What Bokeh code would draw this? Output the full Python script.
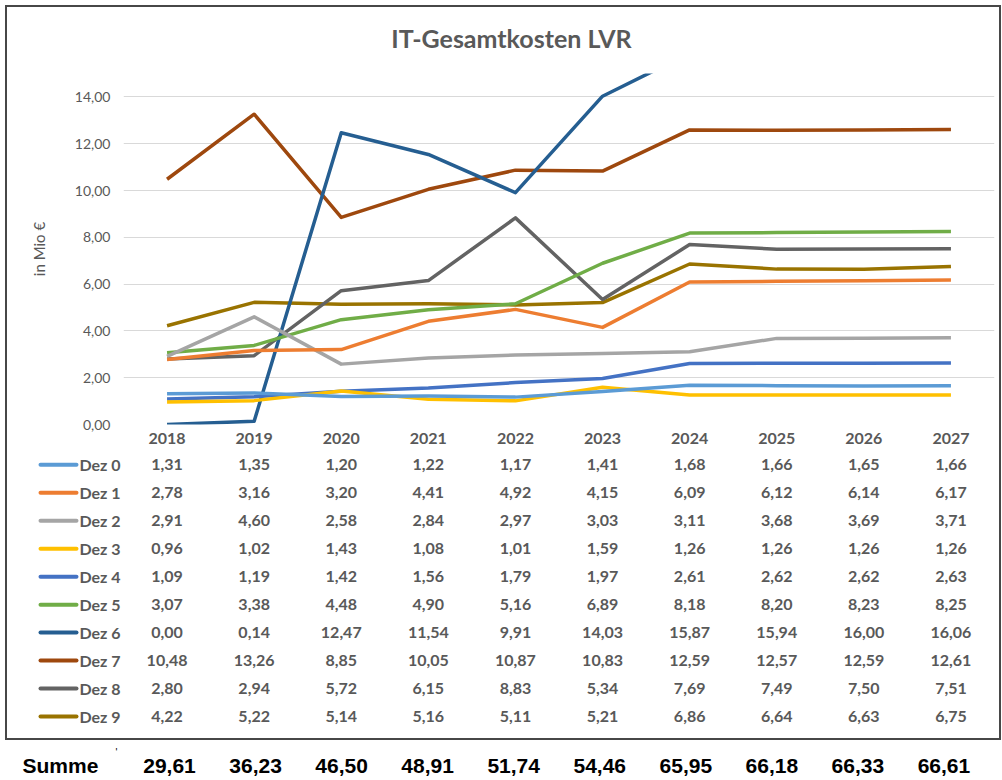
from bokeh.plotting import figure
from bokeh.models import Range1d, FactorRange, FixedTicker, ColumnDataSource
from bokeh.layouts import column
from bokeh.embed import file_html
from bokeh.resources import INLINE
from bokeh.core.properties import value

# ---------------- data ----------------
title_text = "IT-Gesamtkosten LVR"
years = ["2018", "2019", "2020", "2021", "2022", "2023", "2024", "2025", "2026", "2027"]
series_names = ["Dez 0", "Dez 1", "Dez 2", "Dez 3", "Dez 4", "Dez 5", "Dez 6", "Dez 7", "Dez 8", "Dez 9"]
dez0 = [1.31, 1.35, 1.20, 1.22, 1.17, 1.41, 1.68, 1.66, 1.65, 1.66]
dez1 = [2.78, 3.16, 3.20, 4.41, 4.92, 4.15, 6.09, 6.12, 6.14, 6.17]
dez2 = [2.91, 4.60, 2.58, 2.84, 2.97, 3.03, 3.11, 3.68, 3.69, 3.71]
dez3 = [0.96, 1.02, 1.43, 1.08, 1.01, 1.59, 1.26, 1.26, 1.26, 1.26]
dez4 = [1.09, 1.19, 1.42, 1.56, 1.79, 1.97, 2.61, 2.62, 2.62, 2.63]
dez5 = [3.07, 3.38, 4.48, 4.90, 5.16, 6.89, 8.18, 8.20, 8.23, 8.25]
dez6 = [0.00, 0.14, 12.47, 11.54, 9.91, 14.03, 15.87, 15.94, 16.00, 16.06]
dez7 = [10.48, 13.26, 8.85, 10.05, 10.87, 10.83, 12.59, 12.57, 12.59, 12.61]
dez8 = [2.80, 2.94, 5.72, 6.15, 8.83, 5.34, 7.69, 7.49, 7.50, 7.51]
dez9 = [4.22, 5.22, 5.14, 5.16, 5.11, 5.21, 6.86, 6.64, 6.63, 6.75]
summe = [29.61, 36.23, 46.50, 48.91, 51.74, 54.46, 65.95, 66.18, 66.33, 66.61]
y_ticks = [0, 2, 4, 6, 8, 10, 12, 14]

series = [dez0, dez1, dez2, dez3, dez4, dez5, dez6, dez7, dez8, dez9]
colors = ["#5B9BD5", "#ED7D31", "#A5A5A5", "#FFC000", "#4472C4",
          "#70AD47", "#255E91", "#9E480E", "#636363", "#997300"]

def de(v):
    return f"{v:.2f}".replace(".", ",")

# ---------------- layout constants ----------------
W = 992           # inner width (inside the frame border)
TH = 56           # title strip height
H1 = 387          # chart height (below title strip)
H2 = 288          # table height
FL = 116          # chart frame left (canvas px)
FR = 5            # chart frame right border
CW = (W - FL - FR) / len(years)
C0 = FL + CW / 2  # canvas x of first column centre
GREY = "#595959"
BORDER = "#474747"
FONT = "Lato"

def blank(width, height, xr, yr):
    f = figure(width=width, height=height, x_range=xr, y_range=yr,
               output_backend="svg", toolbar_location=None,
               min_border=0, min_border_left=0, min_border_right=0,
               min_border_top=0, min_border_bottom=0,
               x_axis_type=None, y_axis_type=None)
    f.frame_align = False
    f.outline_line_color = None
    f.background_fill_color = "white"
    f.border_fill_color = "white"
    return f

# ---------------- title strip ----------------
tt = blank(W, TH, Range1d(0, W), Range1d(TH, 0))
tt.text(x=[504], y=[30], text=[title_text],
        text_font=value(FONT), text_font_style="bold", text_font_size="25px",
        text_color=GREY, text_align="center", text_baseline="middle")

# ---------------- chart ----------------
p = figure(width=W, height=H1,
           x_range=FactorRange(*years), y_range=Range1d(0, 15),
           output_backend="svg", toolbar_location=None,
           min_border_left=FL, min_border_right=FR,
           min_border_top=10, min_border_bottom=26)
p.frame_align = False
p.outline_line_color = None
p.background_fill_color = "white"
p.border_fill_color = "white"

p.xgrid.visible = False
p.ygrid.grid_line_color = "#d9d9d9"
p.ygrid.grid_line_width = 1
p.yaxis.ticker = FixedTicker(ticks=y_ticks)
p.yaxis.major_label_overrides = {t: de(t) for t in y_ticks}
for ax in (p.xaxis, p.yaxis):
    ax.axis_line_color = None
    ax.major_tick_line_color = None
    ax.minor_tick_line_color = None
    ax.major_label_text_color = GREY
    ax.major_label_text_font = FONT

p.yaxis.major_label_text_font_size = "14px"
p.yaxis.major_label_standoff = 7
p.yaxis.axis_label = "in Mio €"
p.yaxis.axis_label_text_font = FONT
p.yaxis.axis_label_text_font_size = "15px"
p.yaxis.axis_label_text_font_style = "normal"
p.yaxis.axis_label_text_color = GREY
p.yaxis.axis_label_standoff = 24

p.xaxis.major_label_text_font_size = "16px"
p.xaxis.major_label_text_font_style = "bold"
p.xaxis.major_label_standoff = 2

# Excel draws the first series on top -> draw in reverse order
for vals, col in reversed(list(zip(series, colors))):
    p.line(years, vals, line_color=col, line_width=3.5, line_join="round")

# ---------------- data table ----------------
ROW0 = 14.3       # canvas y of first row
ROWH = 27.97      # row pitch

def cx(px):
    return (px - C0) / CW

def ry(py):
    return (py - ROW0) / ROWH

t = blank(W, H2, Range1d(cx(0), cx(W)), Range1d(ry(H2), ry(0)))

xs, ys, txt = [], [], []
for r, vals in enumerate(series):
    for c, v in enumerate(vals):
        xs.append(c)
        ys.append(r)
        txt.append(de(v))
t.text(x="x", y="y", text="text", source=ColumnDataSource(dict(x=xs, y=ys, text=txt)),
       text_font=value(FONT), text_font_style="bold", text_font_size="16px",
       text_color=GREY, text_align="center", text_baseline="middle")

rows = list(range(len(series_names)))
t.segment(x0=[cx(33)] * len(rows), x1=[cx(69)] * len(rows), y0=rows, y1=rows,
          line_color=colors, line_width=4, line_cap="round")
t.text(x=[cx(72)] * len(rows), y=rows, text=series_names,
       text_font=value(FONT), text_font_style="bold", text_font_size="16px",
       text_color=GREY, text_align="left", text_baseline="middle")

inner = column(tt, p, t, spacing=0,
               styles={"border": f"2px solid {BORDER}",
                       "margin-left": "5px", "margin-top": "5px"})

# ---------------- Summe row (outside the frame) ----------------
WS = 1000
HS = 36
S0 = 169.0        # page x of first Summe value
SP = 86.05        # Summe column pitch

def sx(px):
    return (px - S0) / SP

s = blank(WS, HS, Range1d(sx(0), sx(WS)), Range1d(HS, 0))

SUM_Y = 25
s.text(x=[sx(22)], y=[SUM_Y], text=["Summe"],
       text_font=value("Liberation Sans"), text_font_style="bold",
       text_font_size="21px", text_color="black",
       text_align="left", text_baseline="middle")
s.text(x=list(range(len(summe))), y=[SUM_Y] * len(summe), text=[de(v) for v in summe],
       text_font=value("Liberation Sans"), text_font_style="bold",
       text_font_size="21px", text_color="black",
       text_align="center", text_baseline="middle")
s.text(x=[sx(116)], y=[12], text=["'"],
       text_font=value("Liberation Sans"), text_font_size="10px", text_color="black",
       text_align="center", text_baseline="middle")

layout = column(inner, s, spacing=0)
open("out.html", "w").write(file_html(layout, INLINE))
